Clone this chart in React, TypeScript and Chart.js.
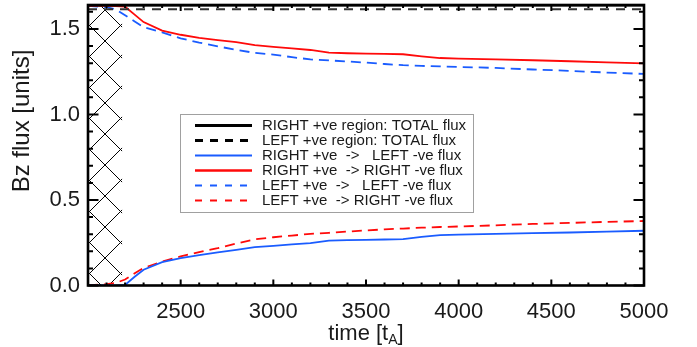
import React, { useEffect, useRef } from 'react';
import { Chart, registerables } from 'chart.js';

Chart.register(...registerables);

// ---- data ----
const times = [2000, 2100, 2150, 2200, 2250, 2300, 2400, 2500, 2600, 2700, 2800, 2900, 3000, 3100, 3200, 3300, 3400, 3500, 3600, 3700, 3800, 3900, 4000, 4200, 4400, 4600, 4800, 5000];

const rightTotal = [1.64, 1.64, 1.64, 1.64, 1.64, 1.64, 1.64, 1.64, 1.64, 1.64, 1.64, 1.64, 1.64, 1.64, 1.64, 1.64, 1.64, 1.64, 1.64, 1.64, 1.64, 1.64, 1.64, 1.64, 1.64, 1.64, 1.64, 1.64];
const leftTotal = [1.615, 1.615, 1.615, 1.615, 1.615, 1.615, 1.615, 1.615, 1.615, 1.615, 1.615, 1.615, 1.615, 1.615, 1.615, 1.615, 1.615, 1.615, 1.615, 1.615, 1.615, 1.615, 1.615, 1.615, 1.615, 1.615, 1.615, 1.615];
const rightToLeft = [0, 0, 0, 0.003, 0.05, 0.092, 0.137, 0.16, 0.178, 0.194, 0.208, 0.224, 0.232, 0.24, 0.248, 0.262, 0.265, 0.267, 0.269, 0.271, 0.284, 0.294, 0.297, 0.302, 0.306, 0.31, 0.315, 0.32];
const rightToRight = [1.635, 1.635, 1.634, 1.63, 1.585, 1.54, 1.49, 1.466, 1.448, 1.435, 1.423, 1.405, 1.395, 1.386, 1.377, 1.362, 1.358, 1.356, 1.354, 1.352, 1.34, 1.33, 1.327, 1.322, 1.317, 1.311, 1.305, 1.299];
const leftToLeft = [1.635, 1.628, 1.615, 1.58, 1.545, 1.51, 1.48, 1.445, 1.42, 1.398, 1.378, 1.36, 1.35, 1.335, 1.322, 1.316, 1.31, 1.303, 1.295, 1.288, 1.284, 1.281, 1.278, 1.272, 1.263, 1.255, 1.245, 1.237];
const leftToRight = [0, 0.008, 0.015, 0.035, 0.07, 0.103, 0.14, 0.17, 0.195, 0.218, 0.245, 0.27, 0.282, 0.292, 0.302, 0.308, 0.315, 0.322, 0.328, 0.333, 0.338, 0.342, 0.345, 0.352, 0.36, 0.366, 0.372, 0.377];

const seriesLabels = [
  'RIGHT +ve region: TOTAL flux',
  'LEFT +ve region: TOTAL flux',
  'RIGHT +ve  ->   LEFT -ve flux',
  'RIGHT +ve  -> RIGHT -ve flux',
  'LEFT +ve  ->   LEFT -ve flux',
  'LEFT +ve  -> RIGHT -ve flux',
];

const xTickLabels = [2500, 3000, 3500, 4000, 4500, 5000];
const yTickLabels = [0, 0.5, 1.0, 1.5];
const xRange = [2000, 5000];
const yRange = [0, 1.64];
const hatchRange = [2000, 2185];

const xTitleMain = 'time [t';
const xTitleSub = 'A';
const xTitleEnd = ']';
const yTitle = 'Bz flux [units]';

// ---- styles ----
const FONT = '"Liberation Sans", Arial, Helvetica, sans-serif';
const BLUE = '#1a5cff';
const RED = '#ff0a0a';
const TEXT = '#1a1a1a';

const seriesStyles = [
  { color: '#000000', width: 3, dash: [] as number[], legendWidth: 3.2, legendDash: [] as number[] },
  { color: '#333333', width: 2, dash: [9, 7], legendWidth: 3.2, legendDash: [8, 7] },
  { color: BLUE, width: 1.8, dash: [], legendWidth: 2, legendDash: [] },
  { color: RED, width: 1.8, dash: [], legendWidth: 2.4, legendDash: [] },
  { color: BLUE, width: 1.8, dash: [10, 6], legendWidth: 2, legendDash: [7, 8] },
  { color: RED, width: 1.8, dash: [10, 6], legendWidth: 2, legendDash: [7, 8] },
];

const idlPlugin = {
  id: 'idlDecor',
  beforeDatasetsDraw(chart: any) {
    const { ctx, chartArea } = chart;
    const xs = chart.scales.x;
    const x0 = xs.getPixelForValue(hatchRange[0]);
    const x1 = xs.getPixelForValue(hatchRange[1]);
    const top = chartArea.top;
    const bottom = chartArea.bottom;
    ctx.save();
    ctx.beginPath();
    ctx.rect(x0, top, x1 - x0, bottom - top);
    ctx.clip();
    ctx.strokeStyle = '#000';
    ctx.lineWidth = 1;
    ctx.beginPath();
    const sp = 31;
    const ax = x0 + 17;
    const ay = top + 5;
    for (let k = -6; k <= 16; k++) {
      const c = ay - ax + k * sp;
      ctx.moveTo(x0, x0 + c);
      ctx.lineTo(x1, x1 + c);
      const d = ay + ax + k * sp;
      ctx.moveTo(x0, d - x0);
      ctx.lineTo(x1, d - x1);
    }
    ctx.stroke();
    ctx.restore();
  },
  afterDatasetsDraw(chart: any) {
    const { ctx, chartArea } = chart;
    const { left, right, top, bottom } = chartArea;
    const xs = chart.scales.x;
    const ys = chart.scales.y;
    ctx.save();
    // ticks
    ctx.strokeStyle = '#000';
    ctx.lineWidth = 2;
    ctx.beginPath();
    for (let i = 0; i <= 30; i++) {
      const v = xRange[0] + i * 100;
      const px = xs.getPixelForValue(v);
      const len = i % 5 === 0 ? 6 : 3;
      ctx.moveTo(px, bottom);
      ctx.lineTo(px, bottom - len);
      ctx.moveTo(px, top);
      ctx.lineTo(px, top + len);
    }
    for (let i = 0; i <= 16; i++) {
      const v = i / 10;
      const py = ys.getPixelForValue(v);
      const len = i % 5 === 0 ? 10.5 : 5;
      ctx.moveTo(left, py);
      ctx.lineTo(left + len, py);
      ctx.moveTo(right, py);
      ctx.lineTo(right - len, py);
    }
    ctx.stroke();
    // frame
    ctx.lineWidth = 2.6;
    ctx.strokeRect(left, top, right - left, bottom - top);

    // legend
    const lx = 180, ly = 114, lw = 293, lh = 98;
    ctx.fillStyle = '#ffffff';
    ctx.fillRect(lx, ly, lw, lh);
    ctx.strokeStyle = '#a0a0a0';
    ctx.lineWidth = 1;
    ctx.strokeRect(lx + 0.5, ly + 0.5, lw, lh);
    ctx.font = `15px ${FONT}`;
    ctx.textBaseline = 'middle';
    ctx.textAlign = 'left';
    seriesLabels.forEach((label, i) => {
      const st = seriesStyles[i];
      const cy = ly + 11.5 + i * 15;
      ctx.beginPath();
      ctx.strokeStyle = i === 1 ? '#000' : st.color;
      ctx.lineWidth = st.legendWidth;
      ctx.setLineDash(st.legendDash);
      ctx.moveTo(195, cy);
      ctx.lineTo(252, cy);
      ctx.stroke();
      ctx.setLineDash([]);
      ctx.fillStyle = TEXT;
      ctx.fillText(label, 262, cy + 0.5);
    });

    // x title with subscript
    ctx.fillStyle = TEXT;
    ctx.textBaseline = 'alphabetic';
    ctx.font = `22px ${FONT}`;
    const wMain = ctx.measureText(xTitleMain).width;
    ctx.font = `14px ${FONT}`;
    const wSub = ctx.measureText(xTitleSub).width;
    ctx.font = `22px ${FONT}`;
    const wEnd = ctx.measureText(xTitleEnd).width;
    const total = wMain + wSub + wEnd;
    let tx = (left + right) / 2 - total / 2;
    const tb = 340;
    ctx.fillText(xTitleMain, tx, tb);
    tx += wMain;
    ctx.font = `14px ${FONT}`;
    ctx.fillText(xTitleSub, tx, tb + 4);
    tx += wSub;
    ctx.font = `22px ${FONT}`;
    ctx.fillText(xTitleEnd, tx, tb);

    // y title
    ctx.translate(22, 121);
    ctx.rotate(-Math.PI / 2);
    ctx.textAlign = 'center';
    ctx.textBaseline = 'middle';
    ctx.font = `24px ${FONT}`;
    ctx.fillText(yTitle, 0, 0);
    ctx.restore();
  },
};

export default function App() {
  const canvasRef = useRef<HTMLCanvasElement | null>(null);

  useEffect(() => {
    const canvas = canvasRef.current;
    if (!canvas) return;
    const seriesValues = [rightTotal, leftTotal, rightToLeft, rightToRight, leftToLeft, leftToRight];
    const chart = new Chart(canvas, {
      type: 'line',
      data: {
        datasets: seriesValues.map((vals, i) => ({
          label: seriesLabels[i],
          data: times.map((t, j) => ({ x: t, y: vals[j] })),
          borderColor: seriesStyles[i].color,
          borderWidth: seriesStyles[i].width,
          borderDash: seriesStyles[i].dash,
          pointRadius: 0,
          fill: false,
          tension: 0,
        })),
      },
      options: {
        responsive: false,
        animation: false,
        devicePixelRatio: 1,
        layout: { padding: { top: 5, right: 53, bottom: 0, left: 0 } },
        plugins: {
          legend: { display: false },
          tooltip: { enabled: false },
        },
        scales: {
          x: {
            type: 'linear',
            min: xRange[0],
            max: xRange[1],
            grid: { display: false, drawTicks: false },
            border: { display: false },
            afterBuildTicks: (s: any) => {
              s.ticks = xTickLabels.map((v) => ({ value: v }));
            },
            afterFit: (s: any) => {
              s.height = 61.5;
              s.paddingLeft = 0;
              s.paddingRight = 0;
            },
            ticks: {
              autoSkip: false,
              maxRotation: 0,
              padding: 13,
              color: TEXT,
              font: { family: FONT, size: 22 },
              callback: (v: any) => String(v),
            },
          },
          y: {
            type: 'linear',
            min: yRange[0],
            max: yRange[1],
            grid: { display: false, drawTicks: false },
            border: { display: false },
            afterBuildTicks: (s: any) => {
              s.ticks = yTickLabels.map((v) => ({ value: v }));
            },
            afterFit: (s: any) => {
              s.width = 88;
              s.paddingTop = 0;
              s.paddingBottom = 0;
            },
            ticks: {
              autoSkip: false,
              padding: 8,
              color: TEXT,
              font: { family: FONT, size: 22 },
              callback: (v: any) => Number(v).toFixed(1),
            },
          },
        },
      },
      plugins: [idlPlugin],
    });
    return () => chart.destroy();
  }, []);

  return (
    <div style={{ position: 'absolute', left: 0, top: 0, width: 697, height: 347, background: '#fff' }}>
      <canvas ref={canvasRef} width={697} height={347} style={{ display: 'block' }} />
    </div>
  );
}
